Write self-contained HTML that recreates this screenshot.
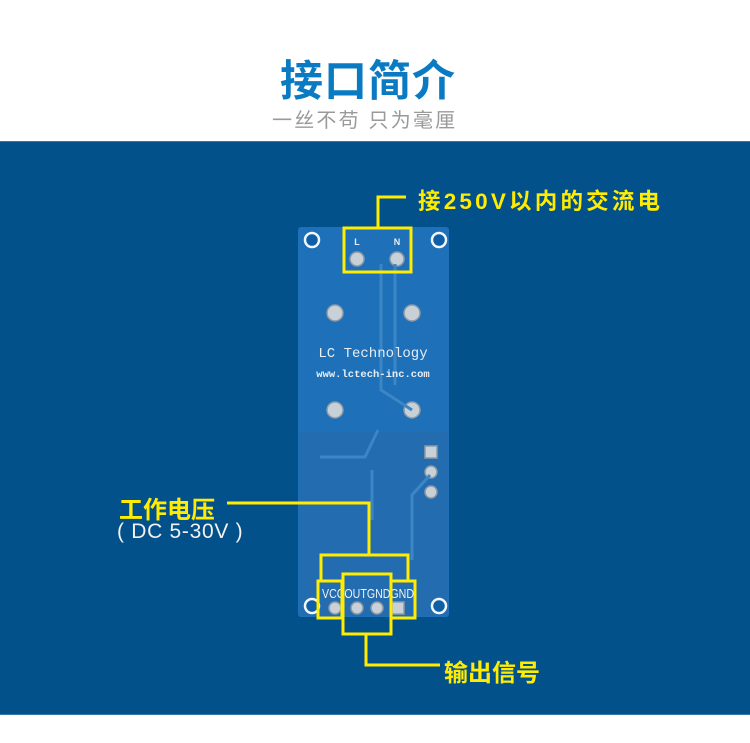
<!DOCTYPE html>
<html><head><meta charset="utf-8"><style>
html,body{margin:0;padding:0;width:750px;height:743px;background:#fff;overflow:hidden;position:relative;font-family:"Liberation Sans","Noto Sans CJK SC",sans-serif}
.t{position:absolute;white-space:nowrap}
</style></head><body>
<div class="t" style="left:280px;top:47px;font-size:43px;font-weight:bold;color:#0a7bc2;letter-spacing:1px">接口简介</div>
<div class="t" style="left:272px;top:104px;font-size:20px;color:#9a9a9a;letter-spacing:2.2px">一丝不苟 只为毫厘</div>
<div style="position:absolute;left:0;top:141px;width:750px;height:574px;background:#03518b;border-top:1px solid #3a78a8;border-bottom:1px solid #3a78a8;box-sizing:border-box"></div>
<svg style="position:absolute;left:0;top:0" width="750" height="743">
<rect x="298" y="227" width="151" height="390" rx="3" fill="#1e70b8"/>
<rect x="299" y="432" width="149" height="184" fill="#246cb0"/>
<g fill="#0f5fa6" stroke="#f2f6fa" stroke-width="2.5">
<circle cx="312" cy="240" r="7"/><circle cx="439" cy="240" r="7"/>
<circle cx="312" cy="606" r="7"/><circle cx="439" cy="606" r="7"/>
</g>
<g fill="#c9d1d8" stroke="#8e9aa6" stroke-width="1.5">
<circle cx="357" cy="259" r="7"/><circle cx="397" cy="259" r="7"/>
<circle cx="335" cy="313" r="8"/><circle cx="412" cy="313" r="8"/>
<circle cx="335" cy="410" r="8"/><circle cx="412" cy="410" r="8"/>
<circle cx="335" cy="608" r="6"/><circle cx="357" cy="608" r="6"/><circle cx="377" cy="608" r="6"/><rect x="392" y="602" width="12" height="12"/>
<rect x="425" y="446" width="12" height="12"/><circle cx="431" cy="472" r="6"/><circle cx="431" cy="492" r="6"/>
</g>
<g fill="none" stroke="#3c86c6" stroke-width="3">
<path d="M381 264 V390 L412 410"/><path d="M395 264 V385"/>
<path d="M320 457 H365 L378 430"/><path d="M372 470 V520"/><path d="M430 475 L412 495 V560"/>
</g>
<text x="373" y="357" font-family="Liberation Mono,monospace" font-size="14" fill="#e8eef5" text-anchor="middle">LC Technology</text>
<text x="373" y="377" font-family="Liberation Mono,monospace" font-size="10.5" font-weight="bold" fill="#e8eef5" text-anchor="middle">www.lctech-inc.com</text>
<text x="357" y="245" font-family="Liberation Sans,sans-serif" font-size="9" font-weight="bold" fill="#e8eef5" text-anchor="middle">L</text>
<text x="397" y="245" font-family="Liberation Sans,sans-serif" font-size="9" font-weight="bold" fill="#e8eef5" text-anchor="middle">N</text>
<text x="368" y="598" font-family="Liberation Sans,sans-serif" font-size="13" fill="#eef3f8" text-anchor="middle" textLength="92" lengthAdjust="spacingAndGlyphs">VCCOUTGNDGND</text>
<g fill="none" stroke="#ffec00" stroke-width="3">
<rect x="344" y="228" width="67" height="44"/>
<path d="M378 228 V197 H406"/>
<path d="M227 503 H369 V555"/>
<path d="M321 580 V555 H408 V580"/>
<rect x="318" y="581" width="24" height="37"/>
<rect x="391" y="581" width="24" height="37"/>
<rect x="343" y="574" width="48" height="60"/>
<path d="M366 634 V665 H440"/>
</g>
</svg>
<div class="t" style="left:418px;top:184px;font-size:22.5px;font-weight:bold;color:#ffec00;letter-spacing:3.2px">接250V以内的交流电</div>
<div class="t" style="left:119px;top:490px;font-size:24px;font-weight:bold;color:#ffec00">工作电压</div>
<div class="t" style="left:117px;top:520px;font-size:21px;color:#f2f2f2;letter-spacing:0.7px">( DC 5-30V )</div>
<div class="t" style="left:444px;top:653px;font-size:24px;font-weight:bold;color:#ffec00">输出信号</div>
</body></html>
